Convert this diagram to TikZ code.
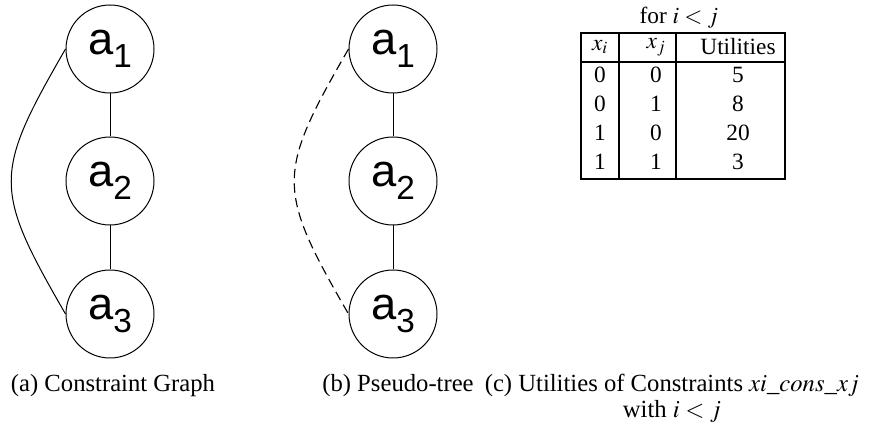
\documentclass[tikz,border=0pt]{standalone}
\usepackage{mathptmx}
\usepackage{fontspec}
\setmainfont{Liberation Serif}
\newfontfamily\nodefont{Liberation Sans}
\usetikzlibrary{positioning}
\newcommand{\agentlabel}[1]{\nodefont a\raisebox{-0.3em}{\fontsize{25}{25}\selectfont #1}}

\begin{document}
\begin{tikzpicture}[x=0.75pt,y=0.75pt,
  agent/.style={draw,circle,minimum size=66pt,inner sep=0pt,line width=0.75pt,
    font=\fontsize{34}{36}\selectfont},
  link/.style={line width=0.75pt},
  backedge/.style={line width=0.85pt,dash pattern=on 7pt off 4pt},
  capt/.style={font=\fontsize{18.5}{20}\selectfont,inner sep=0pt,anchor=base},
  cell/.style={font=\fontsize{17.5}{20}\selectfont,inner sep=0pt}]
\useasboundingbox (0,0) rectangle (872,428);
% (a) constraint graph
\node[agent] (a1) at (110,379) {\agentlabel{1}};
\node[agent] (a2) at (110,247) {\agentlabel{2}};
\node[agent] (a3) at (110,114) {\agentlabel{3}};
\draw[link] (a1) -- (a2);
\draw[link] (a2) -- (a3);
\draw[link] (a1.west) to[out=240,in=120,looseness=1.4] (a3.west);
% (b) pseudo-tree
\node[agent] (b1) at (393,379) {\agentlabel{1}};
\node[agent] (b2) at (393,247) {\agentlabel{2}};
\node[agent] (b3) at (393,114) {\agentlabel{3}};
\draw[link] (b1) -- (b2);
\draw[link] (b2) -- (b3);
\draw[backedge] (b1.west) to[out=240,in=120,looseness=1.4] (b3.west);
% (c) utilities table
\node[cell] (tblcap) at (679,410) {for $i<j$};
\draw[line width=0.8pt] (581,249) rectangle (785,395);
\draw[line width=0.8pt] (581,366) -- (785,366);
\draw[line width=0.8pt] (619,249) -- (619,395);
\draw[line width=0.8pt] (676,249) -- (676,395);
\node[cell] (hxi) at (600,381) {$x_i$};
\node[cell] (hxj) at (656,381) {$x_j$};
\node[cell] (hutil) at (738,381) {Utilities};
\foreach \vi/\vj/\util [count=\r] in {0/0/5,0/1/8,1/0/20,1/1/3}{
  \node[cell] (xi-\r) at (600,{382-29*\r}) {\vi};
  \node[cell] (xj-\r) at (656,{382-29*\r}) {\vj};
  \node[cell] (ut-\r) at (738,{382-29*\r}) {\util};
}
% captions
\node[capt] (capa) at (113,36) {(a) Constraint Graph};
\node[capt] (capb) at (398,36) {(b) Pseudo-tree};
\node[capt] (capc) at (672,36) {(c) Utilities of Constraints $xi\_cons\_xj$};
\node[capt] (capd) at (672,10) {with $i<j$};
\end{tikzpicture}
\end{document}
